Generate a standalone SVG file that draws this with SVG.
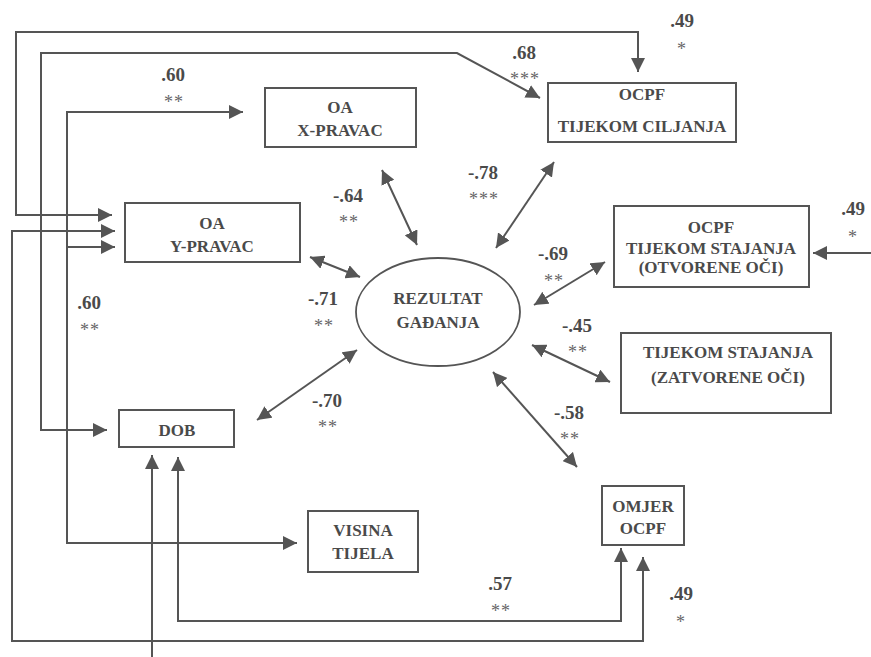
<svg xmlns="http://www.w3.org/2000/svg" width="871" height="657" viewBox="0 0 871 657">
<style>
.box{fill:#fff;stroke:#555;stroke-width:2}
.t{font-family:"Liberation Serif",serif;font-weight:bold;font-size:17px;fill:#4a4a4a;text-anchor:middle}
.n{font-family:"Liberation Serif",serif;font-weight:bold;font-size:19px;fill:#4a4a4a;text-anchor:middle}
.s{font-family:"Liberation Serif",serif;font-size:18px;fill:#666;text-anchor:middle;letter-spacing:1px}
.c{fill:none;stroke:#555;stroke-width:2}
.d{marker-start:url(#a);marker-end:url(#a)}
.e{marker-end:url(#a)}
</style>
<defs>
<marker id="a" viewBox="0 0 10 10" refX="10" refY="5" markerWidth="7" markerHeight="7" orient="auto-start-reverse">
<path d="M0,0 L10,5 L0,10 z" fill="#555"/>
</marker>
</defs>
<rect width="871" height="657" fill="#fff"/>
<g id="connectors">
<path class="c d" d="M638,72 V32 H16 V215 H112"/>
<path class="c d" d="M540,98 L457,53 H41 V430 H107"/>
<path class="c d" d="M243,112 H67 V543 H297"/>
<path class="c e" d="M67,247 H115"/>
<path class="c d" d="M115,231 H12 V641 H643 V557"/>
<path class="c e" d="M152,657 V455"/>
<path class="c d" d="M178,457 V621 H621 V548"/>
<path class="c e" d="M871,253 H813"/>
<path class="c d" d="M382,170 L417,245"/>
<path class="c d" d="M554,162 L496,248"/>
<path class="c d" d="M310,257 L360,277"/>
<path class="c d" d="M605,262 L534,305"/>
<path class="c d" d="M532,345 L610,382"/>
<path class="c d" d="M493,372 L577,467"/>
<path class="c d" d="M357,350 L257,420"/>
</g>
<g id="labels">
<text class="n" x="682" y="27">.49</text><text class="s" x="682" y="55">*</text>
<text class="n" x="524" y="59">.68</text><text class="s" x="525" y="85">***</text>
<text class="n" x="173" y="81">.60</text><text class="s" x="174" y="108">**</text>
<text class="n" x="348" y="202">-.64</text><text class="s" x="349" y="228">**</text>
<text class="n" x="483" y="179">-.78</text><text class="s" x="484" y="205">***</text>
<text class="n" x="853" y="215">.49</text><text class="s" x="853" y="243">*</text>
<text class="n" x="89" y="309">.60</text><text class="s" x="90" y="336">**</text>
<text class="n" x="323" y="305">-.71</text><text class="s" x="324" y="332">**</text>
<text class="n" x="553" y="260">-.69</text><text class="s" x="554" y="287">**</text>
<text class="n" x="577" y="332">-.45</text><text class="s" x="578" y="358">**</text>
<text class="n" x="327" y="407">-.70</text><text class="s" x="328" y="433">**</text>
<text class="n" x="569" y="419">-.58</text><text class="s" x="570" y="445">**</text>
<text class="n" x="500" y="590">.57</text><text class="s" x="501" y="617">**</text>
<text class="n" x="681" y="600">.49</text><text class="s" x="681" y="628">*</text>
</g>
<g id="oa-x"><rect class="box" x="265" y="88" width="151" height="59"/><text class="t" x="340" y="113">OA</text><text class="t" x="340" y="136">X-PRAVAC</text></g>
<g id="oa-y"><rect class="box" x="125" y="203" width="175" height="59"/><text class="t" x="212" y="229">OA</text><text class="t" x="212" y="252">Y-PRAVAC</text></g>
<g id="dob"><rect class="box" x="119" y="410" width="115" height="37"/><text class="t" x="177" y="436">DOB</text></g>
<g id="visina"><rect class="box" x="308" y="511" width="110" height="61"/><text class="t" x="363" y="536">VISINA</text><text class="t" x="363" y="559">TIJELA</text></g>
<g id="ciljanja"><rect class="box" x="548" y="83" width="188" height="59"/><text class="t" x="642" y="100">OCPF</text><text class="t" x="642" y="132">TIJEKOM CILJANJA</text></g>
<g id="otvorene"><rect class="box" x="614" y="206" width="195" height="81"/><text class="t" x="711" y="233">OCPF</text><text class="t" x="711" y="254">TIJEKOM STAJANJA</text><text class="t" x="711" y="273">(OTVORENE OČI)</text></g>
<g id="zatvorene"><rect class="box" x="621" y="333" width="210" height="80"/><text class="t" x="728" y="358">TIJEKOM STAJANJA</text><text class="t" x="728" y="383">(ZATVORENE OČI)</text></g>
<g id="omjer"><rect class="box" x="602" y="486" width="82" height="59"/><text class="t" x="643" y="512">OMJER</text><text class="t" x="643" y="534">OCPF</text></g>
<g id="rezultat"><ellipse cx="438" cy="312" rx="82" ry="54" fill="#fff" stroke="#555" stroke-width="1.8"/><text class="t" x="438" y="304">REZULTAT</text><text class="t" x="438" y="328">GAĐANJA</text></g>
</svg>
